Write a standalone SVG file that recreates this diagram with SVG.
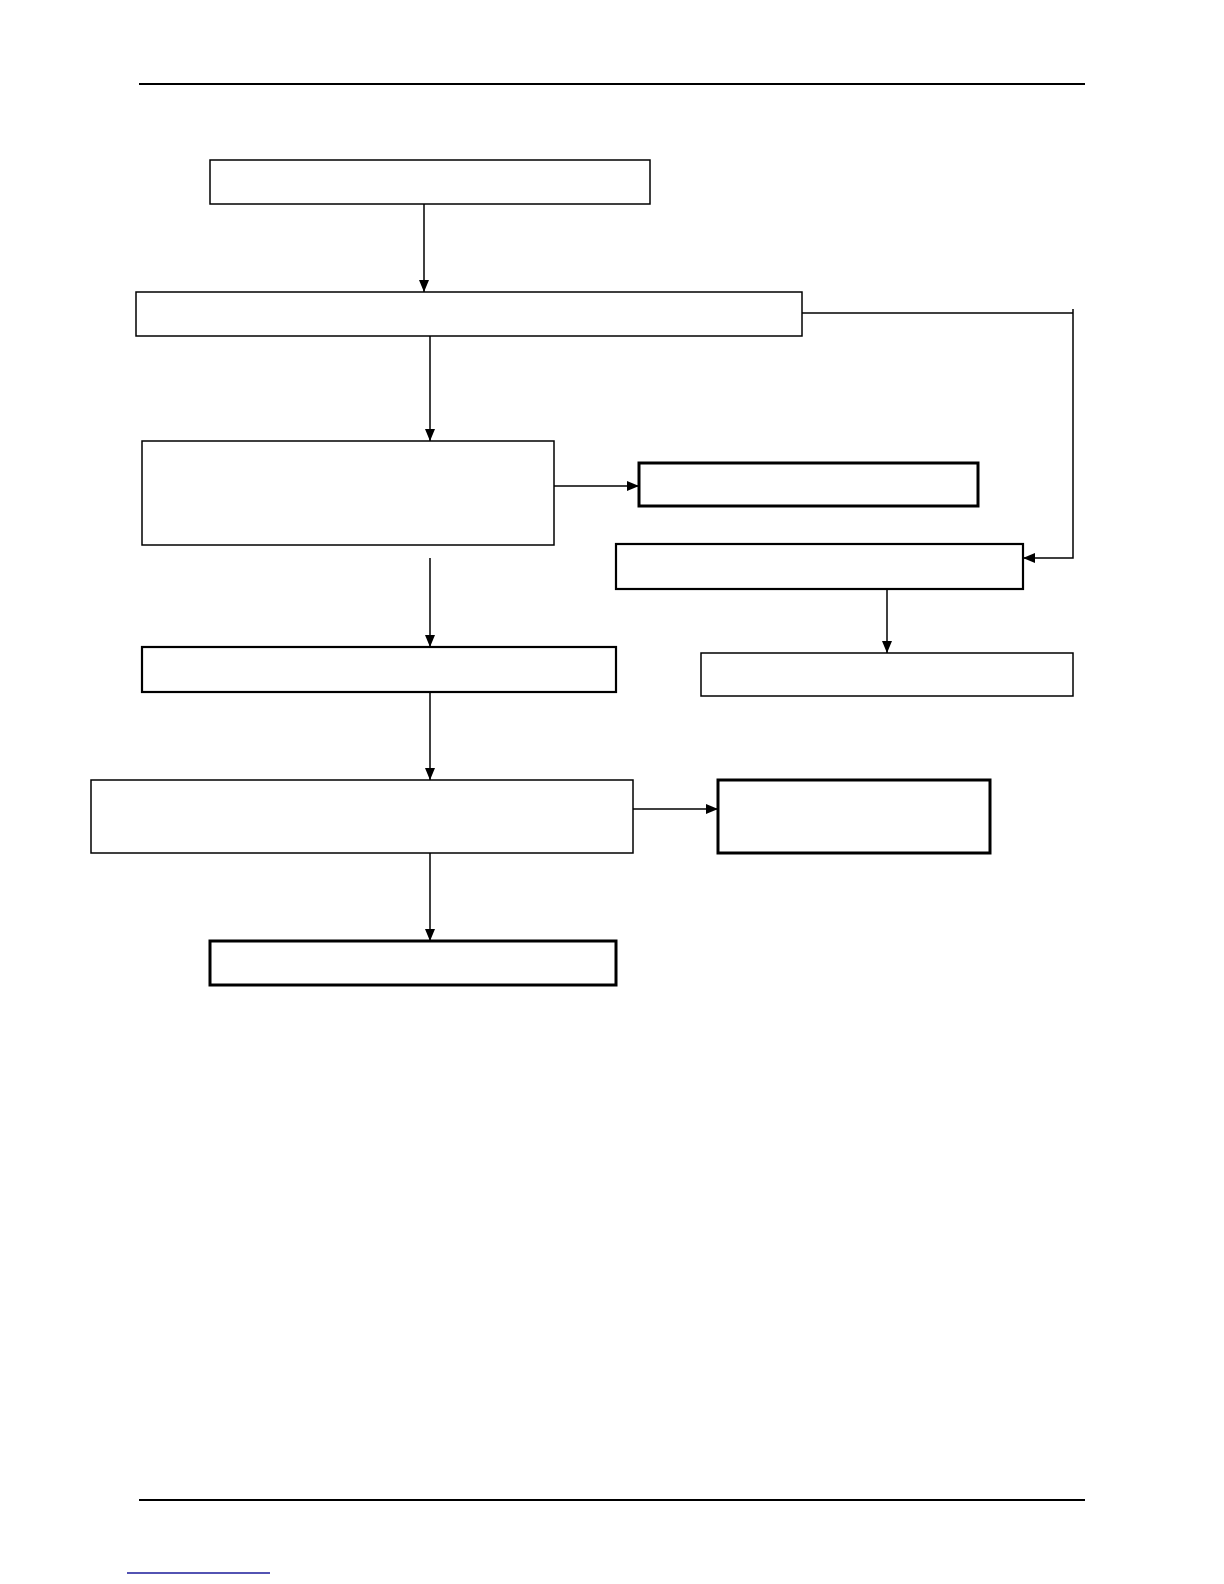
<svg xmlns="http://www.w3.org/2000/svg" width="1224" height="1584" viewBox="0 0 1224 1584">
<style>
.box{fill:#fff;stroke:#000;stroke-width:1.5}
.med{stroke-width:2.2}
.thick{stroke-width:3}
.conn{fill:none;stroke:#000;stroke-width:1.5}
.rule{stroke:#000;stroke-width:1.8}
</style>
<defs>
<marker id="ah" markerWidth="12" markerHeight="10" refX="12" refY="5" orient="auto" markerUnits="userSpaceOnUse">
<path d="M0,0 L12,5 L0,10 z" fill="#000"/>
</marker>
</defs>
<rect width="1224" height="1584" fill="#fff"/>
<line class="rule" x1="139" y1="84" x2="1085" y2="84"/>
<line class="rule" x1="139" y1="1500" x2="1085" y2="1500"/>
<line x1="127" y1="1573" x2="270" y2="1573" stroke="#1a1a9a" stroke-width="1.5"/>
<g id="connectors">
<line class="conn" x1="424" y1="204" x2="424" y2="292" marker-end="url(#ah)"/>
<line class="conn" x1="430" y1="336" x2="430" y2="441" marker-end="url(#ah)"/>
<line class="conn" x1="802" y1="313" x2="1073" y2="313"/>
<polyline class="conn" points="1073,309 1073,558 1023,558" marker-end="url(#ah)"/>
<line class="conn" x1="554" y1="486" x2="639" y2="486" marker-end="url(#ah)"/>
<line class="conn" x1="887" y1="589" x2="887" y2="653" marker-end="url(#ah)"/>
<line class="conn" x1="430" y1="558" x2="430" y2="647" marker-end="url(#ah)"/>
<line class="conn" x1="430" y1="692" x2="430" y2="780" marker-end="url(#ah)"/>
<line class="conn" x1="633" y1="809" x2="718" y2="809" marker-end="url(#ah)"/>
<line class="conn" x1="430" y1="853" x2="430" y2="941" marker-end="url(#ah)"/>
</g>
<g id="n1"><rect class="box" x="210" y="160" width="440" height="44"/></g>
<g id="n2"><rect class="box" x="136" y="292" width="666" height="44"/></g>
<g id="n3"><rect class="box" x="142" y="441" width="412" height="104"/></g>
<g id="n4"><rect class="box thick" x="639" y="463" width="339" height="43"/></g>
<g id="n5"><rect class="box med" x="616" y="544" width="407" height="45"/></g>
<g id="n6"><rect class="box" x="701" y="653" width="372" height="43"/></g>
<g id="n7"><rect class="box med" x="142" y="647" width="474" height="45"/></g>
<g id="n8"><rect class="box" x="91" y="780" width="542" height="73"/></g>
<g id="n9"><rect class="box thick" x="718" y="780" width="272" height="73"/></g>
<g id="n10"><rect class="box thick" x="210" y="941" width="406" height="44"/></g>
</svg>
